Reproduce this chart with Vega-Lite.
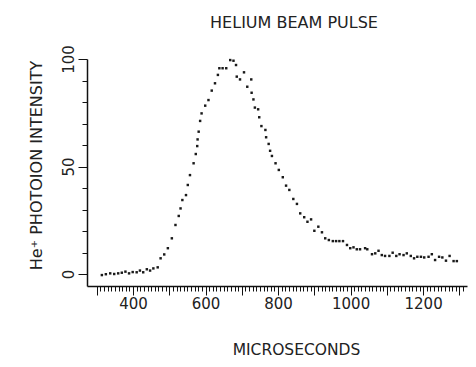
{
  "$schema": "https://vega.github.io/schema/vega-lite/v6.json",
  "width": 380,
  "height": 227,
  "autosize": {"type": "none"},
  "padding": {"left": 87, "top": 59, "right": 9, "bottom": 81},
  "background": "white",
  "title": {"text": "HELIUM BEAM PULSE", "font": "DejaVu Sans", "fontSize": 16, "fontWeight": "normal", "color": "#222", "anchor": "middle", "frame": "group", "dx": 17, "baseline": "alphabetic", "offset": 1},
  "data": {"values": [
    {"t":314,"v":-0.5},{"t":325,"v":-0.1},{"t":337,"v":0.3},{"t":348,"v":0},{"t":359,"v":0.3},{"t":369,"v":0.6},{"t":379,"v":1.1},{"t":389,"v":0.3},{"t":399,"v":0.9},{"t":410,"v":0.8},
    {"t":419,"v":1.6},{"t":428,"v":0.8},{"t":438,"v":2.2},{"t":447,"v":1.6},{"t":456,"v":2.6},{"t":468,"v":3.1},{"t":476,"v":7.3},{"t":486,"v":9.1},{"t":496,"v":12},{"t":507,"v":16.6},
    {"t":517,"v":22.8},{"t":526,"v":27},{"t":531,"v":30.5},{"t":536,"v":34.4},{"t":546,"v":36.7},{"t":551,"v":41.4},{"t":557,"v":46},{"t":567,"v":51.5},{"t":573,"v":55.8},{"t":577,"v":59.5},
    {"t":578,"v":62.6},{"t":581,"v":66.2},{"t":585,"v":71.2},{"t":589,"v":74.7},{"t":599,"v":78.3},{"t":608,"v":80.9},{"t":617,"v":85.3},{"t":626,"v":88.7},{"t":634,"v":92.6},{"t":638,"v":95.7},
    {"t":647,"v":95.7},{"t":657,"v":95.7},{"t":668,"v":99.5},{"t":677,"v":99.2},{"t":684,"v":97.2},{"t":686,"v":91.8},{"t":695,"v":90.5},{"t":706,"v":93.8},{"t":715,"v":87.1},{"t":726,"v":90.5},
    {"t":727,"v":84.3},{"t":732,"v":81.2},{"t":736,"v":77.4},{"t":745,"v":76.6},{"t":748,"v":72.9},{"t":754,"v":68.8},{"t":765,"v":67},{"t":767,"v":63.6},{"t":774,"v":60.5},{"t":778,"v":57.3},
    {"t":783,"v":54.9},{"t":793,"v":51.5},{"t":802,"v":48.4},{"t":813,"v":45},{"t":822,"v":41.1},{"t":831,"v":39.1},{"t":842,"v":34.9},{"t":852,"v":32.6},{"t":861,"v":28.2},{"t":872,"v":26.4},
    {"t":881,"v":24.3},{"t":891,"v":25.4},{"t":900,"v":20.1},{"t":911,"v":22},{"t":921,"v":19.4},{"t":930,"v":16.6},{"t":940,"v":15.8},{"t":951,"v":15.3},{"t":960,"v":15.3},{"t":969,"v":15.3},
    {"t":979,"v":15.3},{"t":990,"v":13.5},{"t":999,"v":12},{"t":1008,"v":12.4},{"t":1017,"v":11.5},{"t":1026,"v":11.5},{"t":1040,"v":12},{"t":1046,"v":11.5},{"t":1059,"v":9.2},{"t":1068,"v":9.6},
    {"t":1077,"v":10.8},{"t":1086,"v":8.8},{"t":1095,"v":8.4},{"t":1107,"v":8.4},{"t":1116,"v":9.9},{"t":1126,"v":8.4},{"t":1135,"v":9.2},{"t":1146,"v":8.8},{"t":1155,"v":9.6},{"t":1166,"v":8.4},
    {"t":1175,"v":7.3},{"t":1184,"v":8},{"t":1194,"v":8},{"t":1203,"v":7.7},{"t":1215,"v":8},{"t":1224,"v":9.2},{"t":1233,"v":6.5},{"t":1244,"v":8},{"t":1253,"v":7.7},{"t":1263,"v":6.2},
    {"t":1273,"v":8.4},{"t":1284,"v":6},{"t":1293,"v":6}
  ]},
  "mark": {"type": "square", "size": 6, "color": "#1a1a1a", "opacity": 1},
  "encoding": {
    "x": {
      "field": "t", "type": "quantitative",
      "scale": {"domain": [273, 1321], "nice": false, "zero": false},
      "axis": {
        "title": "MICROSECONDS",
        "values": [300,310,320,330,340,350,360,370,380,390,400,410,420,430,440,450,460,470,480,490,500,510,520,530,540,550,560,570,580,590,600,610,620,630,640,650,660,670,680,690,700,710,720,730,740,750,760,770,780,790,800,810,820,830,840,850,860,870,880,890,900,910,920,930,940,950,960,970,980,990,1000,1010,1020,1030,1040,1050,1060,1070,1080,1090,1100,1110,1120,1130,1140,1150,1160,1170,1180,1190,1200,1210,1220,1230,1240,1250,1260,1270,1280,1290,1300,1310],
        "tickSize": {"condition": {"test": "datum.value % 100 === 0", "value": 9}, "value": 5},
        "format": "d",
        "labelExpr": "datum.value % 200 === 0 && datum.value >= 400 && datum.value <= 1200 ? datum.label : ''",
        "labelOverlap": false,
        "labelFlush": false,
        "labelFont": "DejaVu Sans",
        "labelFontSize": 15,
        "labelColor": "#222",
        "labelBaseline": "alphabetic",
        "labelPadding": 13,
        "domainColor": "#111",
        "domainWidth": 1.5,
        "tickColor": "#111",
        "tickWidth": 1,
        "grid": false,
        "titleFont": "DejaVu Sans",
        "titleFontSize": 15.5,
        "titleFontWeight": "normal",
        "titleColor": "#222",
        "titleX": 209,
        "titleY": 68,
        "titleAlign": "center",
        "titleBaseline": "alphabetic"
      }
    },
    "y": {
      "field": "v", "type": "quantitative",
      "scale": {"domain": [-5.58, 100], "nice": false, "zero": false},
      "axis": {
        "title": "He⁺ PHOTOION INTENSITY",
        "values": [0,10,20,30,40,50,60,70,80,90,100],
        "tickSize": {"condition": {"test": "datum.value % 50 === 0", "value": 9}, "value": 5},
        "labelExpr": "datum.value % 50 === 0 ? datum.label : ''",
        "labelOverlap": false,
        "labelFlush": false,
        "labelAngle": 270,
        "labelAlign": "center",
        "labelBaseline": "middle",
        "labelPadding": 10,
        "labelFont": "DejaVu Sans",
        "labelFontSize": 15,
        "labelColor": "#222",
        "domainColor": "#111",
        "domainWidth": 1.5,
        "tickColor": "#111",
        "tickWidth": 1,
        "grid": false,
        "titleFont": "DejaVu Sans",
        "titleFontSize": 16,
        "titleFontWeight": "normal",
        "titleColor": "#222",
        "titleAngle": 270,
        "titleX": -51,
        "titleY": 106,
        "titleAlign": "center",
        "titleBaseline": "middle"
      }
    }
  },
  "config": {"view": {"stroke": null}}
}
